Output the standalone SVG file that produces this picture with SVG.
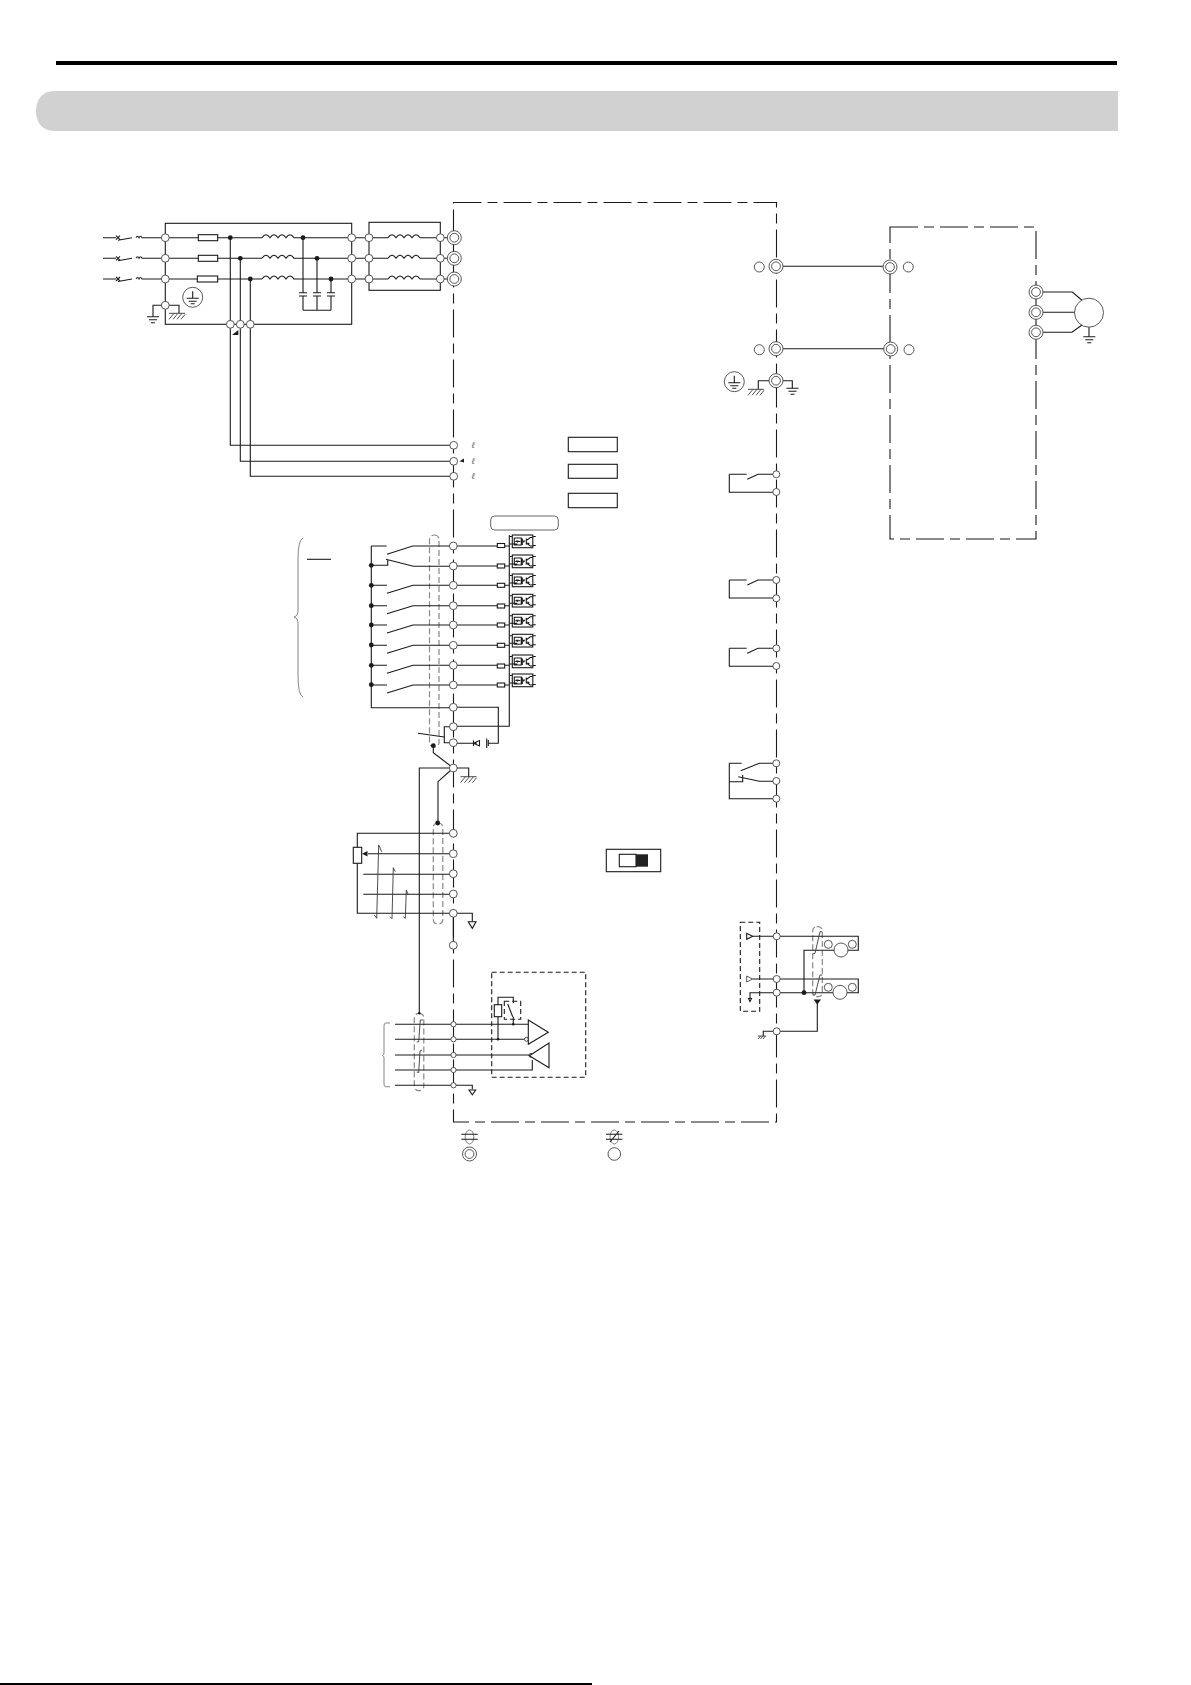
<svg xmlns="http://www.w3.org/2000/svg" width="1191" height="1685" viewBox="0 0 1191 1685">
<style>
.w{fill:none;stroke:#1a1a1a;stroke-width:1.1}
.g{fill:none;stroke:#3a3a3a;stroke-width:.9}
.lg{fill:none;stroke:#777;stroke-width:.9}
.k{fill:#1a1a1a;stroke:none}
.t{fill:#fff;stroke:#444;stroke-width:.9}
.b{fill:#fff;stroke:#1a1a1a;stroke-width:1.1}
.dash{fill:none;stroke:#1a1a1a;stroke-width:1.1;stroke-dasharray:28 6 10 6}
.short{fill:none;stroke:#1a1a1a;stroke-width:1.1;stroke-dasharray:5 3}
.shield{fill:none;stroke:#888;stroke-width:1.2;stroke-dasharray:6 3}
.ell{font-family:"DejaVu Serif",serif;font-style:italic;font-size:9px;fill:#555;text-anchor:middle}
</style>
<defs>
<circle id="t" r="3.9" class="t"/>
<circle id="ts" r="2.6" class="t"/>
<circle id="tr" r="3.5" class="t"/>
<circle id="d" r="2.4" class="k"/>
<g id="dc"><circle r="7" class="t"/><circle r="4.4" class="t"/></g>
<path id="coil" class="w" d="M0 0q4-6 8 0q4-6 8 0q4-6 8 0q4-6 8 0"/>
<path id="gnd" class="w" d="M-6 0H6M-4 3H4M-2 6H2"/>
<path id="hatch" class="g" d="M-8 0H8M-8 6L-3 0M-4 6L1 0M0 6L5 0M4 6L8 1"/>
<g id="earth"><circle r="10" class="t"/><path class="w" d="M0-6V1M-6 1H6M-4 4H4M-2 6.5H2"/></g>
<path id="breaker" class="w" d="M0 0H13M13-2l4 4M13 2l4-4M15 2.500L29 0M33 0q1.500-3 3 0q1.500-3 3 0H62"/>
<path id="sw" class="w" d="M371.300 0H387M387 8L413 0H450"/>
<g id="opto"><rect width="20.500" height="12.700" class="b"/><path class="w" stroke-width=".8" d="M-3 1.500H0M-3 9H5M2 3H9V10H2ZM3 6.500H8M14 3.500V9.500M14 5.500L18 2.500H20.500M14 8L18 11H20.500M20.500 1.500H23.500M20.500 10.500H23.500M10 3.500V10"/><path class="k" d="M3.500 5.500H6.500L5 8ZM10 5.500H13L11.500 8ZM15 7L17.500 8.500L16 9.500Z"/></g>
<g id="relay"><path class="w" d="M729.300 0H746.700M747.300 5L758 0H776M729.300 0V18H776"/></g>
</defs>

<rect x="56" y="61" width="1061" height="4" fill="#000"/>
<path d="M1118 91H54C42 91 36 100 36 111S42 131 54 131H1118Z" fill="#d1d1d1"/>
<rect x="0" y="1683" width="592" height="2" fill="#000"/>

<g id="boundaries">
<rect x="453.500" y="202.500" width="323" height="919.500" class="dash"/>
<rect x="890" y="227" width="146" height="312" class="dash"/>
<rect x="491.700" y="972.300" width="94" height="105" class="short"/>
<rect x="740.300" y="922.300" width="19.400" height="89" class="short"/>
<rect x="504.300" y="1001.300" width="16.400" height="18" class="short"/>
</g>

<g id="shields">
<rect x="429.500" y="535" width="9.500" height="212" rx="4.500" class="shield"/>
<rect x="433.300" y="823" width="9.500" height="101" rx="4.500" class="shield"/>
<rect x="414.300" y="1013.300" width="9.500" height="77.400" rx="4.500" class="shield"/>
<rect x="812.700" y="926.700" width="9.600" height="70" rx="4" class="shield"/>
<ellipse cx="469.500" cy="1137" rx="4.300" ry="7" class="lg"/>
<ellipse cx="614.300" cy="1137" rx="4.300" ry="7" class="lg"/>
</g>

<g id="connectors">
<use href="#breaker" x="103" y="237.700"/>
<use href="#breaker" x="103" y="258.300"/>
<use href="#breaker" x="103" y="279"/>
<rect x="165.300" y="223.300" width="186.400" height="101" class="w"/>
<rect x="369" y="222.300" width="71.300" height="68" class="w"/>
<path class="w" d="M165 237.700H262M293.500 237.700H369M165 258.300H262M293.500 258.300H369M165 279H262M293.500 279H369"/>
<use href="#coil" x="262" y="237.700"/>
<use href="#coil" x="262" y="258.300"/>
<use href="#coil" x="262" y="279"/>
<path class="w" d="M369 237.700H388M420 237.700H454M369 258.300H388M420 258.300H454M369 279H388M420 279H454"/>
<use href="#coil" x="388" y="237.700"/>
<use href="#coil" x="388" y="258.300"/>
<use href="#coil" x="388" y="279"/>
<path class="w" d="M303 237.700V292.700M299 292.700H307M299 296H307M303 296V310.300M317 258.300V292.700M313 292.700H321M313 296H321M317 296V310.300M331 279V292.700M327 292.700H335M327 296H335M331 296V310.300M303 310.300H331"/>
<path class="w" d="M230.300 237.700V445.300H453.700M240.300 258.300V461.300H453.700M250.300 279V476.300H453.700"/>
<path class="w" d="M165.300 305.300H153V316.700M165.300 305.300H179V313.300"/>
<use href="#gnd" x="153" y="316.700"/>
<use href="#hatch" x="177" y="313.300"/>
<path class="k" d="M232 335L238.300 330V335Z"/>
<path class="k" d="M459.500 461.300L464 458.500V462.500Z"/>

<path class="w" d="M776 266.300H890M776 348.700H890"/>
<path class="w" d="M776 380.700H758.300V389.300M776 380.700H792.300V388.300"/>
<use href="#hatch" x="756" y="389.300"/>
<use href="#gnd" x="792.500" y="388.300"/>
<path class="w" d="M1036 292H1072.300L1081.700 300M1036 312.300H1075M1036 332.300H1072L1082 325M1089 327V336.700"/>
<use href="#gnd" x="1089.300" y="336.700"/>

<path class="w" d="M371.300 546H386.700M371.300 546V707.700H453M371.300 565.300H387.700V559.300M386 559.300L413.300 566.300H453M387 554.300L412.700 546H453"/>
<use href="#sw" y="585.300"/>
<use href="#sw" y="605.700"/>
<use href="#sw" y="625"/>
<use href="#sw" y="645.300"/>
<use href="#sw" y="665.300"/>
<use href="#sw" y="685"/>
<path class="w" d="M453 546H509.300M453 566H509.300M453 585.300H509.300M453 605.700H509.300M453 625H509.300M453 645.300H509.300M453 665.300H509.300M453 685H509.300"/>
<path class="w" d="M509.300 535V726.300H453M453 707.300H498.300V743.300H488.300M486.700 738.500V748M488.300 740V746M476.700 743.300H453M473.500 740.500V746M479.500 740.500V746M473.500 743.300L479.500 740.500V746Z"/>
<path class="w" d="M453 726.700H444.300V742.700H453M418 733.300L444.300 737"/>
<path class="w" d="M433.300 745.700V752.700L453.300 768H419.300V1013.300M453.300 768L438 781.700V823M453.300 768H468.700V776.700"/>
<use href="#hatch" x="468.500" y="776.700"/>
<path class="lg" d="M303 538Q298 540 298 560V610Q298 616 294 617Q298 618 298 624V675Q298 695 303 697"/>
<path class="w" d="M307 559.300H331"/>

<path class="w" d="M453.300 833.300H357.300V913.300H453.300V946M357.300 847V833.300M453.300 853.700H368M363.300 874.300H453.300M363.300 894.300H453.300M453.300 913.300H472.300V921.700"/>
<path class="k" d="M362 853.700L367.500 851V856.500Z"/>
<path class="g" d="M374.300 915L376.700 918.300L378.700 845L381.700 851.700M390 916.700L392 918.700L393.300 867.700L395.300 871.700M403.300 916.700L405.300 918.300L406.300 890L408.300 895"/>
<path class="b" d="M468.300 921.700H476L472.300 928.300Z"/>

<path class="w" d="M395 1024.300H528.300M395 1039.300H526M395 1055H529.300M395 1070H532.300V1060M395 1085.300H453"/>
<path class="w" stroke-width="1.800" d="M453.300 1085.300H472.300V1089.300"/>
<path class="b" d="M469 1090H475.700L472.300 1094.700Z"/>
<path class="lg" d="M390 1023H385.500Q384 1023 384 1026V1053Q384 1055 382.500 1055.500Q384 1056 384 1058V1084Q384 1086.700 385.500 1086.700H390"/>
<path class="g" d="M416.700 1042L418.700 1041.700L420.300 1020L423 1020M416.700 1072L418.700 1072.500L420 1051L422 1050"/>
<path class="w" d="M498 1004.700V997.300H513.300V1003M507.700 1004L512.700 1016.700M513.300 1016.700V1024.300M498 1016.700V1039.300"/>
<circle cx="498" cy="1039.300" r="1.300" class="k"/>
<circle cx="513.300" cy="1024.300" r="1.300" class="k"/>
<circle cx="419.300" cy="1013.300" r="1.300" class="k"/>
<circle cx="526.500" cy="1039.300" r="2" class="t"/>
<circle cx="531" cy="1055.300" r="2" class="t"/>

<path class="w" d="M752.700 936.300H858.300V950.300H804V992.700M752.700 979H858.300V992.700H750V999"/>
<path class="g" d="M812.700 954L815 953.300L820 931.700L822.300 931.700M812.700 995L815 995L820 975L822.300 975"/>
<path class="w" d="M817.300 1001.700V1031.300H776.700H763.300V1036"/>
<path class="g" d="M758 1036H766M758 1039L760.500 1036M760.500 1039L763 1036M763 1039L765.500 1036"/>
<path class="k" d="M813.500 999.500H821L817.300 1004.500Z"/>
<path class="b" d="M748.500 998.500H751.500L750 1001.500Z"/>

<use href="#relay" y="474.300"/>
<use href="#relay" y="580"/>
<use href="#relay" y="648.300"/>
<path class="w" d="M729.300 763.300H741.700M740.700 770.700L759.300 763.300H776M738.300 776.700L759.300 781.300H776M742.700 775V781.700H729.300M729.300 763.300V798.700H776"/>
<path class="w" d="M461.300 1134.300H477.700M461.300 1139.300H477.700M606 1134.300H622.400M606 1139.300H622.400M610 1142L619 1131"/>
</g>

<g id="input-filter">
<rect x="198.300" y="234.700" width="19.400" height="6" class="b"/>
<rect x="198.300" y="255.300" width="19.400" height="6" class="b"/>
<rect x="197.300" y="276" width="20.400" height="6" class="b"/>
<use href="#d" x="230.300" y="237.700"/><use href="#d" x="240.300" y="258.300"/><use href="#d" x="250.300" y="279"/>
<use href="#d" x="303" y="237.700"/><use href="#d" x="317" y="258.300"/><use href="#d" x="331" y="279"/>
<use href="#earth" x="192.700" y="297.300"/>
<use href="#t" x="165.300" y="237.700"/><use href="#t" x="165.300" y="258.300"/><use href="#t" x="165.300" y="279"/><use href="#t" x="165.300" y="305.300"/>
<use href="#t" x="351.700" y="237.700"/><use href="#t" x="351.700" y="258.300"/><use href="#t" x="351.700" y="279"/>
<use href="#t" x="369" y="237.700"/><use href="#t" x="369" y="258.300"/><use href="#t" x="369" y="279"/>
<use href="#t" x="440.300" y="237.700"/><use href="#t" x="440.300" y="258.300"/><use href="#t" x="440.300" y="279"/>
<use href="#t" x="230.300" y="324.300"/><use href="#t" x="240.300" y="324.300"/><use href="#t" x="250.300" y="324.300"/>
</g>
<g id="power-terminals">
<use href="#dc" x="454.300" y="237.700"/><use href="#dc" x="454.300" y="258.300"/><use href="#dc" x="454.300" y="279"/>
<use href="#t" x="453.700" y="445.300"/><use href="#t" x="453.700" y="461.300"/><use href="#t" x="453.700" y="476.300"/>
<text class="ell" x="473" y="447.500">ℓ</text><text class="ell" x="473" y="463.500">ℓ</text><text class="ell" x="473" y="479">ℓ</text>
<use href="#dc" x="776" y="266.300"/><use href="#dc" x="776" y="348.700"/><use href="#dc" x="776" y="380.700"/>
<circle cx="759.300" cy="267" r="5" class="t"/><circle cx="759.300" cy="349.700" r="5" class="t"/>
<use href="#dc" x="890" y="267"/><use href="#dc" x="890.700" y="349"/>
<circle cx="908.300" cy="267" r="5" class="t"/><circle cx="909" cy="349.700" r="5" class="t"/>
<use href="#earth" x="734.300" y="381.700"/>
</g>
<g id="motor">
<use href="#dc" x="1036" y="292"/><use href="#dc" x="1036" y="312.300"/><use href="#dc" x="1036" y="332.300"/>
<circle cx="1089" cy="312.700" r="14.500" class="t"/>
</g>
<g id="labels-boxes">
<rect x="568.300" y="437.300" width="49" height="14.400" class="b"/>
<rect x="568.300" y="464.300" width="49" height="14" class="b"/>
<rect x="568.300" y="493.300" width="49" height="14.400" class="b"/>
<rect x="490.700" y="516" width="67.600" height="14" rx="4" fill="#fff" stroke="#666" stroke-width="1"/>
</g>
<g id="dip-switch">
<rect x="606.300" y="849.300" width="54.400" height="22.400" class="b"/>
<rect x="619.300" y="854.300" width="16.700" height="12.400" class="b"/>
<rect x="636" y="854.300" width="12" height="12.400" fill="#222"/>
</g>
<g id="digital-inputs">
<use href="#d" x="371.300" y="565.300"/><use href="#d" x="371.300" y="585.300"/><use href="#d" x="371.300" y="605.700"/><use href="#d" x="371.300" y="625"/><use href="#d" x="371.300" y="645"/><use href="#d" x="371.300" y="665.300"/><use href="#d" x="371.300" y="684.700"/>
<rect x="497.300" y="543.500" width="7.400" height="4" class="b"/><rect x="497.300" y="564" width="7.400" height="4" class="b"/><rect x="497.300" y="583.300" width="7.400" height="4" class="b"/><rect x="497.300" y="604" width="7.400" height="4" class="b"/><rect x="497.300" y="623" width="7.400" height="4" class="b"/><rect x="497.300" y="643.300" width="7.400" height="4" class="b"/><rect x="497.300" y="664" width="7.400" height="4" class="b"/><rect x="497.300" y="683" width="7.400" height="4" class="b"/>
<use href="#opto" x="512.300" y="535"/><use href="#opto" x="512.300" y="555"/><use href="#opto" x="512.300" y="574"/><use href="#opto" x="512.300" y="594.300"/><use href="#opto" x="512.300" y="614.300"/><use href="#opto" x="512.300" y="634.300"/><use href="#opto" x="512.300" y="655"/><use href="#opto" x="512.300" y="674"/>
<use href="#t" x="453.300" y="546"/><use href="#t" x="453.300" y="566"/><use href="#t" x="453.300" y="585.300"/><use href="#t" x="453.300" y="605.700"/><use href="#t" x="453.300" y="625"/><use href="#t" x="453.300" y="645.300"/><use href="#t" x="453.300" y="665.300"/><use href="#t" x="453.300" y="685"/><use href="#t" x="453.300" y="707.300"/><use href="#t" x="453.300" y="726.700"/><use href="#t" x="453.300" y="742.700"/><use href="#t" x="453.300" y="768"/>
<use href="#d" x="433.300" y="745.700"/>
</g>
<g id="analog-inputs">
<use href="#d" x="437.700" y="823"/>
<rect x="353.300" y="847.300" width="8.400" height="16" class="b"/>
<use href="#t" x="453.300" y="833.300"/><use href="#t" x="453.300" y="853.700"/><use href="#t" x="453.300" y="873.700"/><use href="#t" x="453.300" y="894"/><use href="#t" x="453.300" y="913.300"/><use href="#t" x="453.300" y="945.300"/>
</g>
<g id="comm-port">
<use href="#ts" x="453.500" y="1024.300"/><use href="#ts" x="453.500" y="1039.300"/><use href="#ts" x="453.500" y="1055"/><use href="#ts" x="453.500" y="1070"/><use href="#ts" x="453.500" y="1085.300"/>
<rect x="494.300" y="1004.700" width="7.400" height="12" class="b"/>
<path class="b" d="M528.300 1020V1044.300L548.300 1032.300Z"/>
<path class="b" d="M549 1043V1067.700L529.300 1055.700Z"/>
</g>
<g id="relay-outputs">
<use href="#tr" x="776.300" y="474.300"/><use href="#tr" x="776.300" y="492"/><use href="#tr" x="776.300" y="580"/><use href="#tr" x="776.300" y="598.300"/><use href="#tr" x="776.300" y="648.300"/><use href="#tr" x="776.300" y="666"/><use href="#tr" x="776.300" y="763.300"/><use href="#tr" x="776.300" y="781"/><use href="#tr" x="776.300" y="798.700"/>
</g>
<g id="monitor-outputs">
<path class="b" d="M746.700 933.300V939.300L752.700 936.300Z"/>
<path class="t" d="M746.700 976V982L752.700 979Z"/>
<use href="#tr" x="776.700" y="936.300"/><use href="#tr" x="776.700" y="979"/><use href="#tr" x="776.700" y="992.700"/><use href="#tr" x="776.700" y="1031.300"/>
<use href="#d" x="804" y="992.700"/>
<circle cx="841" cy="950" r="7" class="t"/><circle cx="828.300" cy="944.300" r="4" class="t"/><circle cx="852.300" cy="944.300" r="4" class="t"/>
<circle cx="840" cy="992.300" r="7" class="t"/><circle cx="828.300" cy="987.300" r="4" class="t"/><circle cx="852.300" cy="987.300" r="4" class="t"/>
</g>
<g id="legend">
<use href="#dc" x="469.500" y="1154"/>
<circle cx="614.300" cy="1154" r="6.300" class="t"/>
</g>
</svg>
